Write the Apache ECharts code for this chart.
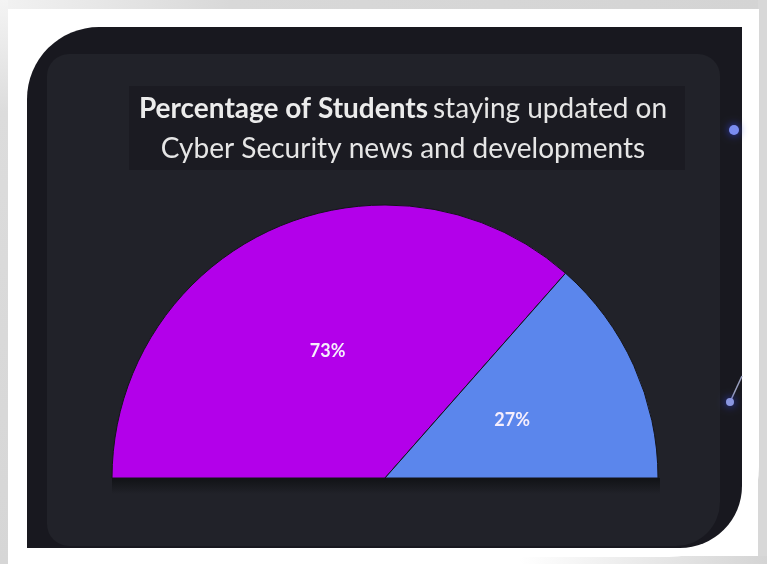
<!DOCTYPE html>
<html>
<head>
<meta charset="utf-8">
<script src="https://cdn.jsdelivr.net/npm/echarts@6/dist/echarts.min.js"></script>
<style>
  html, body { margin: 0; padding: 0; background: #ffffff; }
  #chart { width: 767px; height: 564px; }
</style>
</head>
<body>
<div id="chart"></div>
<script>
// Share of students who keep up with cyber security news
const categories = ['Stay updated', 'Do not stay updated'];
const shares = [73, 27];
const sliceColors = ['#b300ea', '#5b86ec'];

const titleBold = 'Percentage of Students';
const titleRest = 'staying updated on';
const titleLine2 = 'Cyber Security news and developments';

const chart = echarts.init(document.getElementById('chart'), null, { renderer: 'canvas' });

chart.setOption({
  backgroundColor: '#ffffff',
  animation: false,
  graphic: [
    // soft grey shadow around the white frame
    { type: 'rect', z: 0, shape: { x: 0, y: 0, width: 767, height: 9 }, style: { fill: new echarts.graphic.LinearGradient(0, 0, 1, 0, [{ offset: 0, color: '#f2f2f2' }, { offset: 0.3, color: '#d8d8d8' }, { offset: 1, color: '#d4d4d4' }]) } },
    { type: 'rect', z: 0, shape: { x: 0, y: 0, width: 8, height: 564 }, style: { fill: new echarts.graphic.LinearGradient(0, 0, 0, 1, [{ offset: 0, color: '#f4f4f4' }, { offset: 0.2, color: '#dcdcdc' }, { offset: 1, color: '#d6d6d6' }]) } },
    { type: 'rect', z: 0, shape: { x: 758, y: 0, width: 9, height: 564 }, style: { fill: '#d8d8d8' } },
    { type: 'rect', z: 0, shape: { x: 520, y: 556, width: 247, height: 8 }, style: { fill: new echarts.graphic.LinearGradient(0, 0, 1, 0, [{ offset: 0, color: '#ffffff' }, { offset: 1, color: '#d4d4d4' }]) } },
    // white frame
    { type: 'rect', z: 1, shape: { x: 8, y: 9, width: 751, height: 548, r: [95, 0, 90, 0] }, style: { fill: '#ffffff' } },
    // dark panel
    { type: 'rect', z: 2, shape: { x: 27, y: 27, width: 715, height: 521, r: [72, 0, 62, 0] }, style: { fill: '#18181f' } },
    // card
    { type: 'rect', z: 3, shape: { x: 47, y: 54, width: 673, height: 492, r: [22, 22, 44, 22] }, style: { fill: '#212229' } },
    // title plate
    { type: 'rect', z: 4, shape: { x: 129, y: 86, width: 556, height: 84 }, style: { fill: '#1b1b22' } },
    // shadow below the flat edge of the half pie
    { type: 'rect', z: 4, shape: { x: 112, y: 478, width: 548, height: 16 }, style: { fill: new echarts.graphic.LinearGradient(0, 0, 0, 1, [{ offset: 0, color: 'rgba(10,12,14,0.7)' }, { offset: 1, color: 'rgba(10,12,14,0)' }]) } },
    // small marks at the right edge
    { type: 'circle', z: 5, shape: { cx: 734, cy: 130, r: 5 }, style: { fill: '#7a8cf0', shadowBlur: 8, shadowColor: '#3040d0' } },
    { type: 'line', z: 5, shape: { x1: 730, y1: 402, x2: 742, y2: 376 }, style: { stroke: '#9aa0c0', lineWidth: 1.5 } },
    { type: 'circle', z: 5, shape: { cx: 730, cy: 402, r: 4 }, style: { fill: '#8a96e0', shadowBlur: 8, shadowColor: '#3040d0' } }
  ],
  title: {
    left: 398,
    top: 84,
    padding: 5,
    itemGap: 12,
    textAlign: 'center',
    text: '{b|' + titleBold + '} {n|' + titleRest + '}',
    subtext: titleLine2,
    textStyle: {
      rich: {
        b: { fontFamily: 'Lato', fontWeight: 'bold', fontSize: 28, color: '#ececec', lineHeight: 40 },
        n: { fontFamily: 'Lato', fontWeight: 'normal', fontSize: 28, color: '#e6e6e6', lineHeight: 40 }
      }
    },
    subtextStyle: { fontFamily: 'Lato', fontWeight: 'normal', fontSize: 28, color: '#e6e6e6', lineHeight: 40 }
  },
  series: [{
    type: 'pie',
    z: 6,
    center: [385, 478],
    radius: [0, 273],
    startAngle: 180,
    endAngle: 360,
    clockwise: true,
    silent: true,
    data: categories.map((name, i) => ({
      name: name,
      value: shares[i],
      itemStyle: { color: sliceColors[i] }
    })),
    itemStyle: { borderColor: '#14141a', borderWidth: 1 },
    label: {
      show: true,
      position: 'inside',
      formatter: '{c}%',
      fontFamily: 'Lato',
      fontWeight: 'bold',
      fontSize: 18,
      color: '#f6eefc'
    },
    labelLine: { show: false }
  }]
});
</script>
</body>
</html>
